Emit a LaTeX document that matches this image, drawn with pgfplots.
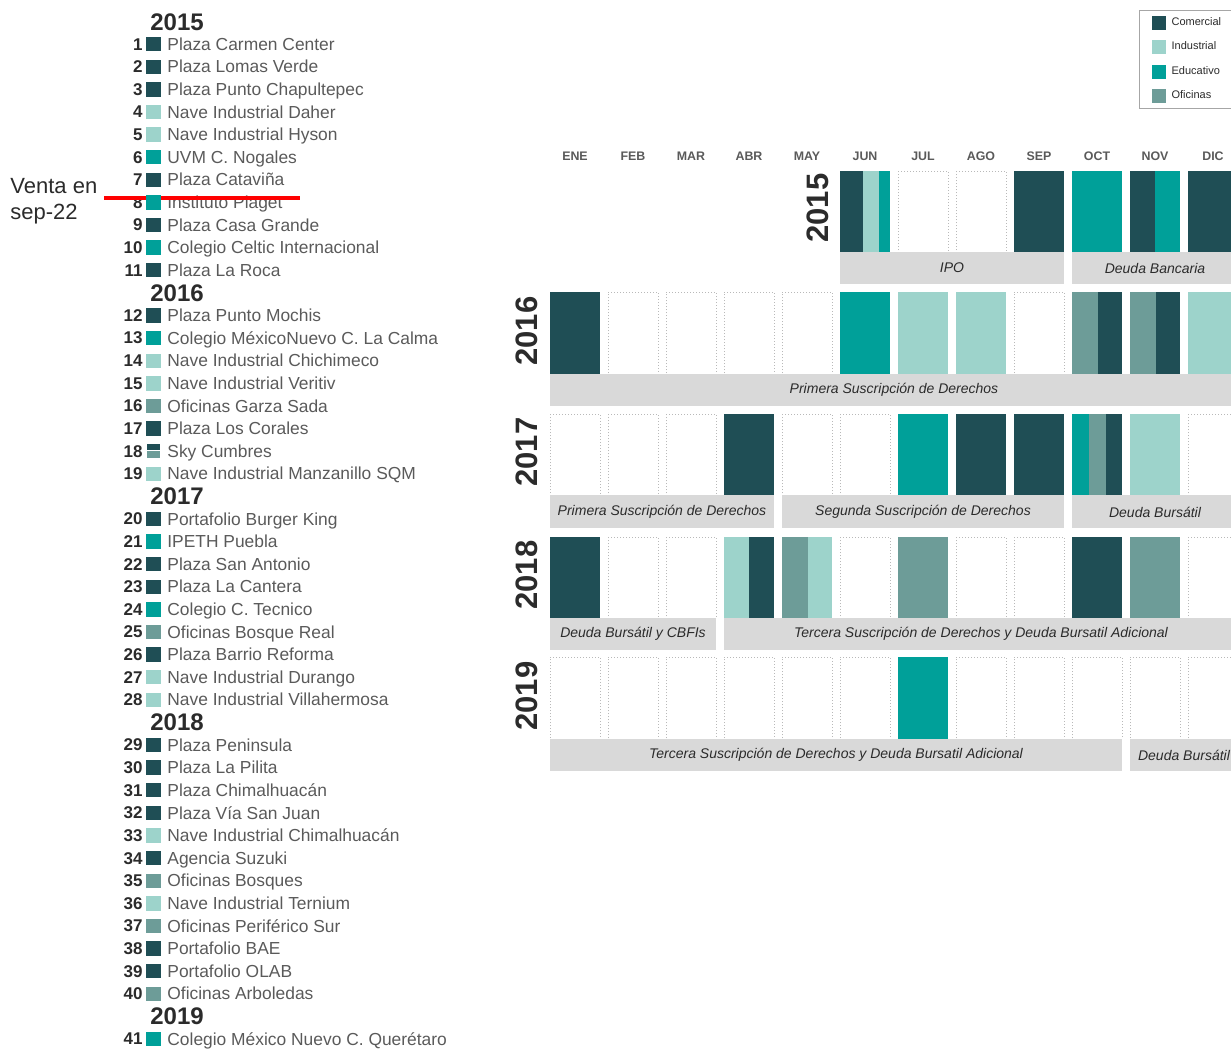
\documentclass[border=0pt]{standalone}
\usepackage{fontspec}
\setmainfont{Liberation Sans}
\usepackage{pgfplots}
\pgfplotsset{compat=1.18}
\definecolor{com}{HTML}{1F4E55}
\definecolor{ind}{HTML}{9DD3CB}
\definecolor{edu}{HTML}{00A099}
\definecolor{ofi}{HTML}{6D9C98}
\definecolor{band}{HTML}{D9D9D9}
\definecolor{txt}{HTML}{5A5A5A}
\definecolor{dark}{HTML}{2B2B2B}
% filled segment: colour, x0, x1, y0, y1
\newcommand{\R}[5]{\addplot[fill=#1,draw=none,forget plot] coordinates {(#2,#4) (#3,#4) (#3,#5) (#2,#5)} --cycle;}
% empty cell: x0, x1, y0, y1
\newcommand{\Z}[4]{\addplot[fill=white,draw=gray!55,densely dotted,line width=0.5pt,forget plot] coordinates {(#1,#3) (#2,#3) (#2,#4) (#1,#4)} --cycle;}
% list entry text only: y, number, name
\newcommand{\LT}[3]{%
  \node[anchor=base east,inner sep=0pt,yshift=-3pt,font=\bfseries\fontsize{8.5}{10}\selectfont,text=dark] at (axis cs:143,#1) {#2};
  \node[anchor=base west,inner sep=0pt,yshift=-3.1pt,font=\fontsize{8.7}{10}\selectfont,text=txt] at (axis cs:167,#1) {#3};}
% list entry with square: y, number, name, colour
\newcommand{\LI}[4]{%
  \addplot[only marks,mark=square*,mark size=3.35pt,color=#4,forget plot] coordinates {(153.5,#1)};
  \LT{#1}{#2}{#3}}
\newcommand{\YH}[2]{\node[anchor=base west,inner sep=0pt,yshift=-4.3pt,font=\bfseries\fontsize{12}{14}\selectfont,text=dark] at (axis cs:150,#1) {#2};}
\newcommand{\BT}[3]{\node[font=\itshape\fontsize{7}{8}\selectfont,text=dark] at (axis cs:#1,#2) {#3};}
\newcommand{\ML}[2]{\node[font=\bfseries\fontsize{6.2}{7}\selectfont,text=txt] at (axis cs:#1,156) {#2};}
\newcommand{\RL}[3]{\node[rotate=90,font=\bfseries\fontsize{15.5}{16}\selectfont,text=dark] at (axis cs:#1,#2) {#3};}
\begin{document}
\begin{tikzpicture}
\begin{axis}[
  width=615.5pt, height=524.5pt, scale only axis,
  xmin=0, xmax=1231, ymin=0, ymax=1049, y dir=reverse,
  hide axis, clip=true,
  legend style={at={(axis cs:1139,10)}, anchor=north west, draw=gray!70, line width=0.6pt,
    font=\fontsize{5.5}{6}\selectfont, text=dark, inner xsep=6pt, inner ysep=1.6pt,
    row sep=2.6pt, cells={anchor=west}, nodes={inner xsep=3pt}},
  legend image code/.code={\fill[#1] (0pt,-3.5pt) rectangle (7pt,3.5pt);},
]
\addlegendimage{fill=com,draw=none}\addlegendentry{Comercial}
\addlegendimage{fill=ind,draw=none}\addlegendentry{Industrial}
\addlegendimage{fill=edu,draw=none}\addlegendentry{Educativo}
\addlegendimage{fill=ofi,draw=none}\addlegendentry{Oficinas}

% ---------- month labels
\ML{575}{ENE}\ML{633}{FEB}\ML{691}{MAR}\ML{749}{ABR}\ML{807}{MAY}\ML{865}{JUN}
\ML{923}{JUL}\ML{981}{AGO}\ML{1039}{SEP}\ML{1097}{OCT}\ML{1155}{NOV}\ML{1213}{DIC}

% ---------- 2015 (cells 171-252, band 252-284)
\R{com}{840}{863}{171}{252}\R{ind}{863}{879}{171}{252}\R{edu}{879}{890}{171}{252}
\Z{898}{948}{171}{252}\Z{956}{1006}{171}{252}
\R{com}{1014}{1064}{171}{252}
\R{edu}{1072}{1122}{171}{252}
\R{com}{1130}{1155}{171}{252}\R{edu}{1155}{1180}{171}{252}
\R{com}{1188}{1238}{171}{252}
\R{band}{840}{1064}{252}{284}\R{band}{1072}{1240}{252}{284}
\BT{952}{268}{IPO}\BT{1155}{268}{Deuda Bancaria}
\RL{818}{208}{2015}

% ---------- 2016 (cells 292-374, band 374-406)
\R{com}{550}{600}{292}{374}
\Z{608}{658}{292}{374}\Z{666}{716}{292}{374}\Z{724}{774}{292}{374}\Z{782}{832}{292}{374}
\R{edu}{840}{890}{292}{374}
\R{ind}{898}{948}{292}{374}
\R{ind}{956}{1006}{292}{374}
\Z{1014}{1064}{292}{374}
\R{ofi}{1072}{1098}{292}{374}\R{com}{1098}{1122}{292}{374}
\R{ofi}{1130}{1156}{292}{374}\R{com}{1156}{1180}{292}{374}
\R{ind}{1188}{1238}{292}{374}
\R{band}{550}{1240}{374}{406}
\BT{894}{390}{Primera Suscripción de Derechos}
\RL{527}{331}{2016}

% ---------- 2017 (cells 414-495, band 495-528)
\Z{550}{600}{414}{495}\Z{608}{658}{414}{495}\Z{666}{716}{414}{495}
\R{com}{724}{774}{414}{495}
\Z{782}{832}{414}{495}\Z{840}{890}{414}{495}
\R{edu}{898}{948}{414}{495}
\R{com}{956}{1006}{414}{495}
\R{com}{1014}{1064}{414}{495}
\R{edu}{1072}{1089}{414}{495}\R{ofi}{1089}{1106}{414}{495}\R{com}{1106}{1122}{414}{495}
\R{ind}{1130}{1180}{414}{495}
\Z{1188}{1238}{414}{495}
\R{band}{550}{774}{495}{528}\R{band}{782}{1064}{495}{528}\R{band}{1072}{1240}{495}{528}
\BT{662}{512}{Primera Suscripción de Derechos}
\BT{923}{512}{Segunda Suscripción de Derechos}
\BT{1155}{512}{Deuda Bursátil}
\RL{527}{452}{2017}

% ---------- 2018 (cells 537-618, band 618-650)
\R{com}{550}{600}{537}{618}
\Z{608}{658}{537}{618}\Z{666}{716}{537}{618}
\R{ind}{724}{749}{537}{618}\R{com}{749}{774}{537}{618}
\R{ofi}{782}{808}{537}{618}\R{ind}{808}{832}{537}{618}
\Z{840}{890}{537}{618}
\R{ofi}{898}{948}{537}{618}
\Z{956}{1006}{537}{618}\Z{1014}{1064}{537}{618}
\R{com}{1072}{1122}{537}{618}
\R{ofi}{1130}{1180}{537}{618}
\Z{1188}{1238}{537}{618}
\R{band}{550}{716}{618}{650}\R{band}{724}{1240}{618}{650}
\BT{633}{634}{Deuda Bursátil y CBFIs}
\BT{981}{634}{Tercera Suscripción de Derechos y Deuda Bursatil Adicional}
\RL{527}{575}{2018}

% ---------- 2019 (cells 657-739, band 739-771)
\Z{550}{600}{657}{739}\Z{608}{658}{657}{739}\Z{666}{716}{657}{739}
\Z{724}{774}{657}{739}\Z{782}{832}{657}{739}\Z{840}{890}{657}{739}
\R{edu}{898}{948}{657}{739}
\Z{956}{1006}{657}{739}\Z{1014}{1064}{657}{739}\Z{1072}{1122}{657}{739}
\Z{1130}{1180}{657}{739}\Z{1188}{1238}{657}{739}
\R{band}{550}{1122}{739}{771}\R{band}{1130}{1240}{739}{771}
\BT{836}{755}{Tercera Suscripción de Derechos y Deuda Bursatil Adicional}
\BT{1184}{755}{Deuda Bursátil}
\RL{527}{696}{2019}

% ---------- list
\YH{21.4}{2015}
\LI{44.0}{1}{Plaza Carmen Center}{com}
\LI{66.6}{2}{Plaza Lomas Verde}{com}
\LI{89.2}{3}{Plaza Punto Chapultepec}{com}
\LI{111.8}{4}{Nave Industrial Daher}{ind}
\LI{134.4}{5}{Nave Industrial Hyson}{ind}
\LI{157.1}{6}{UVM C. Nogales}{edu}
\LI{179.7}{7}{Plaza Cataviña}{com}
\LI{202.3}{8}{Instituto Piaget}{edu}
\LI{224.9}{9}{Plaza Casa Grande}{com}
\LI{247.5}{10}{Colegio Celtic Internacional}{edu}
\LI{270.1}{11}{Plaza La Roca}{com}
\YH{292.7}{2016}
\LI{315.3}{12}{Plaza Punto Mochis}{com}
\LI{337.9}{13}{Colegio MéxicoNuevo C. La Calma}{edu}
\LI{360.6}{14}{Nave Industrial Chichimeco}{ind}
\LI{383.2}{15}{Nave Industrial Veritiv}{ind}
\LI{405.8}{16}{Oficinas Garza Sada}{ofi}
\LI{428.4}{17}{Plaza Los Corales}{com}
\R{com}{147}{160}{444.3}{450.3}\R{ofi}{147}{160}{451.3}{457.7}
\LT{451.0}{18}{Sky Cumbres}
\LI{473.6}{19}{Nave Industrial Manzanillo SQM}{ind}
\YH{496.2}{2017}
\LI{518.8}{20}{Portafolio Burger King}{com}
\LI{541.4}{21}{IPETH Puebla}{edu}
\LI{564.0}{22}{Plaza San Antonio}{com}
\LI{586.7}{23}{Plaza La Cantera}{com}
\LI{609.3}{24}{Colegio C. Tecnico}{edu}
\LI{631.9}{25}{Oficinas Bosque Real}{ofi}
\LI{654.5}{26}{Plaza Barrio Reforma}{com}
\LI{677.1}{27}{Nave Industrial Durango}{ind}
\LI{699.7}{28}{Nave Industrial Villahermosa}{ind}
\YH{722.3}{2018}
\LI{744.9}{29}{Plaza Peninsula}{com}
\LI{767.5}{30}{Plaza La Pilita}{com}
\LI{790.1}{31}{Plaza Chimalhuacán}{com}
\LI{812.8}{32}{Plaza Vía San Juan}{com}
\LI{835.4}{33}{Nave Industrial Chimalhuacán}{ind}
\LI{858.0}{34}{Agencia Suzuki}{com}
\LI{880.6}{35}{Oficinas Bosques}{ofi}
\LI{903.2}{36}{Nave Industrial Ternium}{ind}
\LI{925.8}{37}{Oficinas Periférico Sur}{ofi}
\LI{948.4}{38}{Portafolio BAE}{com}
\LI{971.0}{39}{Portafolio OLAB}{com}
\LI{993.6}{40}{Oficinas Arboledas}{ofi}
\YH{1016.2}{2019}
\LI{1038.8}{41}{Colegio México Nuevo C. Querétaro}{edu}

% ---------- sold property
\addplot[red,line width=2pt,forget plot] coordinates {(104,198) (300,198)};
\node[anchor=base west,inner sep=0pt,font=\fontsize{11}{13}\selectfont,text=dark] at (axis cs:10,193) {Venta en};
\node[anchor=base west,inner sep=0pt,font=\fontsize{11}{13}\selectfont,text=dark] at (axis cs:10,219) {sep-22};
\end{axis}
\pgfresetboundingbox
\useasboundingbox (current axis.south west) rectangle (current axis.north east);
\end{tikzpicture}
\end{document}
